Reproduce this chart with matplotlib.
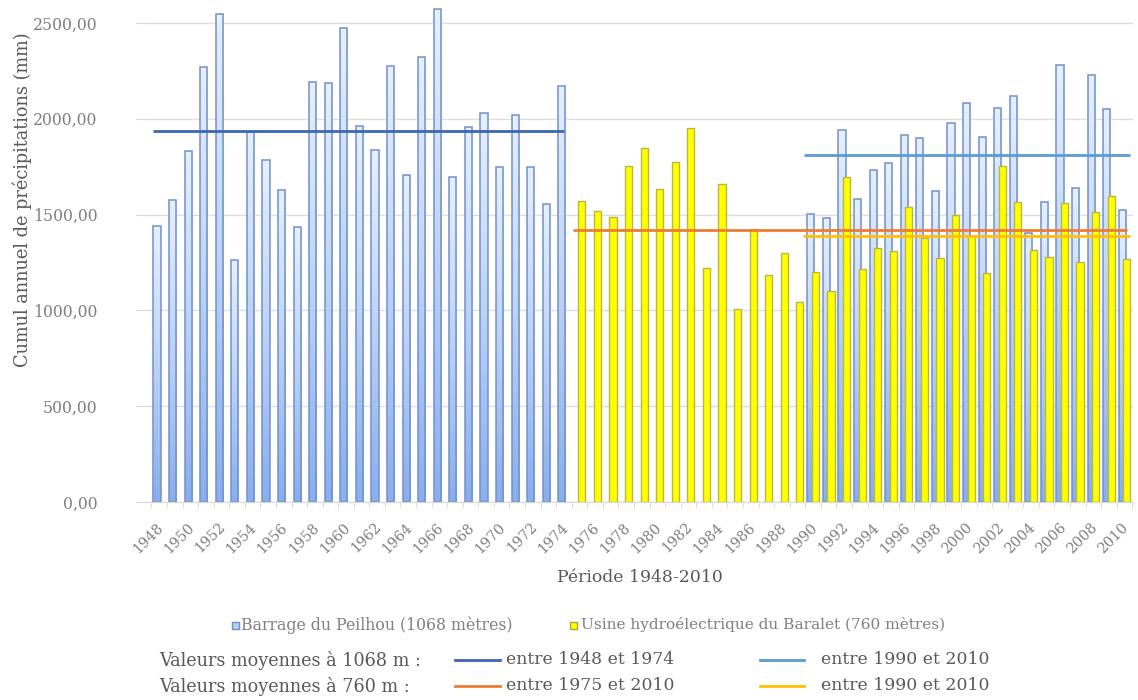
import numpy as np
import matplotlib
matplotlib.use("Agg")
import matplotlib.pyplot as plt
import matplotlib.transforms as mtransforms
from matplotlib.colors import LinearSegmentedColormap
from matplotlib.patches import Rectangle
from matplotlib.lines import Line2D

years = list(range(1948, 2011))

# Barrage du Peilhou (1068 m): 1948-1974 and 1990-2010, no data in between
peilhou_a = [1440, 1575, 1834, 2270, 2545, 1261, 1929, 1783, 1627, 1435, 2192, 2187, 2474, 1961,
             1837, 2276, 1705, 2323, 2573, 1695, 1957, 2030, 1747, 2020, 1749, 1557, 2173]
peilhou_b = [1503, 1482, 1940, 1583, 1734, 1769, 1914, 1902, 1623, 1978, 2081, 1903, 2055, 2117,
             1404, 1566, 2281, 1637, 2226, 2050, 1524]
peilhou = peilhou_a + [np.nan] * 15 + peilhou_b

# Usine hydroelectrique du Baralet (760 m): 1975-2010
baralet_vals = [1571, 1519, 1489, 1755, 1848, 1635, 1775, 1952, 1223, 1661, 1009, 1427, 1186, 1301,
                1045, 1200, 1100, 1698, 1218, 1324, 1312, 1541, 1380, 1272, 1498, 1390, 1197, 1752,
                1567, 1315, 1280, 1559, 1254, 1514, 1597, 1270]
baralet = [np.nan] * 27 + baralet_vals

# mean values (mm) and their periods
mean_vals = [1936, 1809, 1421, 1388]
mean_colors = ["#3c66b4", "#5b9bd5", "#ed7d31", "#ffc000"]
mean_labels = ["entre 1948 et 1974", "entre 1990 et 2010", "entre 1975 et 2010", "entre 1990 et 2010"]

serif = "DejaVu Serif"
grey = "#7f7f7f"

fig = plt.figure(figsize=(11.38, 7.0), dpi=100)
ax = fig.add_axes([150 / 1138, 198 / 700, 983 / 1138, 502 / 700])

x = np.arange(len(years))
bw = 0.46
blue_cmap = LinearSegmentedColormap.from_list("bl", ["#89afee", "#bcd3f6", "#e6effc"])
grad = np.linspace(0, 1, 64).reshape(-1, 1)

bars = ax.bar(x - 0.14, peilhou, bw, facecolor="none", edgecolor="#7291c9", linewidth=1.1, zorder=2)
for b in bars:
    h = b.get_height()
    if not np.isfinite(h) or h <= 0:
        continue
    x0 = b.get_x()
    im = ax.imshow(grad, extent=[x0, x0 + b.get_width(), 0, h], origin="lower", cmap=blue_cmap,
                   aspect="auto", zorder=1.9, interpolation="bilinear")
    im.set_clip_path(b)

ax.bar(x + 0.15, baralet, bw, color="#ffff00", edgecolor="#b8b840", linewidth=1.0, zorder=3)

# mean lines
starts = [-0.40, 41.40, 26.6, 41.37]
ends = [26.0, 62.37, 62.18, 62.33]
for v, s, e, c in zip(mean_vals, starts, ends, mean_colors):
    ax.hlines(v, s, e, color=c, linewidth=2, zorder=4)

ax.set_xlim(-0.59, 62.55)
ax.set_ylim(0, 2620)
ax.set_yticks(np.arange(0, 2501, 500))
ax.set_yticklabels([f"{v:.2f}".replace(".", ",") for v in np.arange(0, 2501, 500)],
                   fontfamily=serif, fontsize=11.3, color=grey)
ax.tick_params(axis="y", length=10, color="#d9d9d9", pad=28)
ax.grid(axis="y", color="#dedede", linewidth=1, zorder=0)
ax.set_axisbelow(True)

even = [i for i, yr in enumerate(years) if yr % 2 == 0]
ax.set_xticks(even)
ax.set_xticklabels([str(years[i]) for i in even], rotation=45, ha="right", va="top",
                   rotation_mode="anchor", fontfamily=serif, fontsize=10.3, color=grey)
ax.tick_params(axis="x", length=0, pad=13)
offset = mtransforms.ScaledTranslation(-3 / 100, 0, fig.dpi_scale_trans)
for lab in ax.get_xticklabels():
    lab.set_transform(lab.get_transform() + offset)
ax.set_xticks(np.arange(-0.5, 63, 1), minor=True)
ax.tick_params(axis="x", which="minor", length=4, color="#d9d9d9")

for side in ["top", "right", "left"]:
    ax.spines[side].set_visible(False)
ax.spines["bottom"].set_color("#d9d9d9")

fig.text(22 / 1138, 1 - 200 / 700, "Cumul annuel de précipitations (mm)", rotation=90,
         ha="center", va="center", fontfamily=serif, fontsize=12.8, color="#595959")
fig.text(640 / 1138, 1 - 577 / 700, "Période 1948-2010", ha="center", va="center",
         fontfamily=serif, fontsize=12.4, color="#595959")

# series legend
def fy(py):
    return 1 - py / 700

fig.patches.append(Rectangle((232 / 1138, fy(629)), 7 / 1138, 7 / 700, transform=fig.transFigure,
                             facecolor="#b7cff5", edgecolor="#6f8fc8", linewidth=1))
fig.text(241 / 1138, fy(625), "Barrage du Peilhou (1068 mètres)", ha="left", va="center",
         fontfamily=serif, fontsize=11.3, color=grey)
fig.patches.append(Rectangle((570 / 1138, fy(629)), 7 / 1138, 7 / 700, transform=fig.transFigure,
                             facecolor="#ffff00", edgecolor="#a8a830", linewidth=1))
fig.text(581 / 1138, fy(625), "Usine hydroélectrique du Baralet (760 mètres)", ha="left", va="center",
         fontfamily=serif, fontsize=11.1, color=grey)

# mean legend
fig.text(159 / 1138, fy(660), "Valeurs moyennes à 1068 m :", ha="left", va="center",
         fontfamily=serif, fontsize=12.7, color="#595959")
fig.text(159 / 1138, fy(686), "Valeurs moyennes à 760 m :", ha="left", va="center",
         fontfamily=serif, fontsize=12.7, color="#595959")
rows = [660, 660, 686, 686]
line_x = [(455, 500), (760, 804), (455, 500), (760, 804)]
text_x = [506, 821, 506, 821]
for lab, c, ry, (lx0, lx1), tx in zip(mean_labels, mean_colors, rows, line_x, text_x):
    fig.add_artist(Line2D([lx0 / 1138, lx1 / 1138], [fy(ry), fy(ry)], color=c, linewidth=2,
                          transform=fig.transFigure))
    fig.text(tx / 1138, fy(ry), lab, ha="left", va="center", fontfamily=serif,
             fontsize=12.4, color="#595959")

fig.savefig("out.png", dpi=100)
